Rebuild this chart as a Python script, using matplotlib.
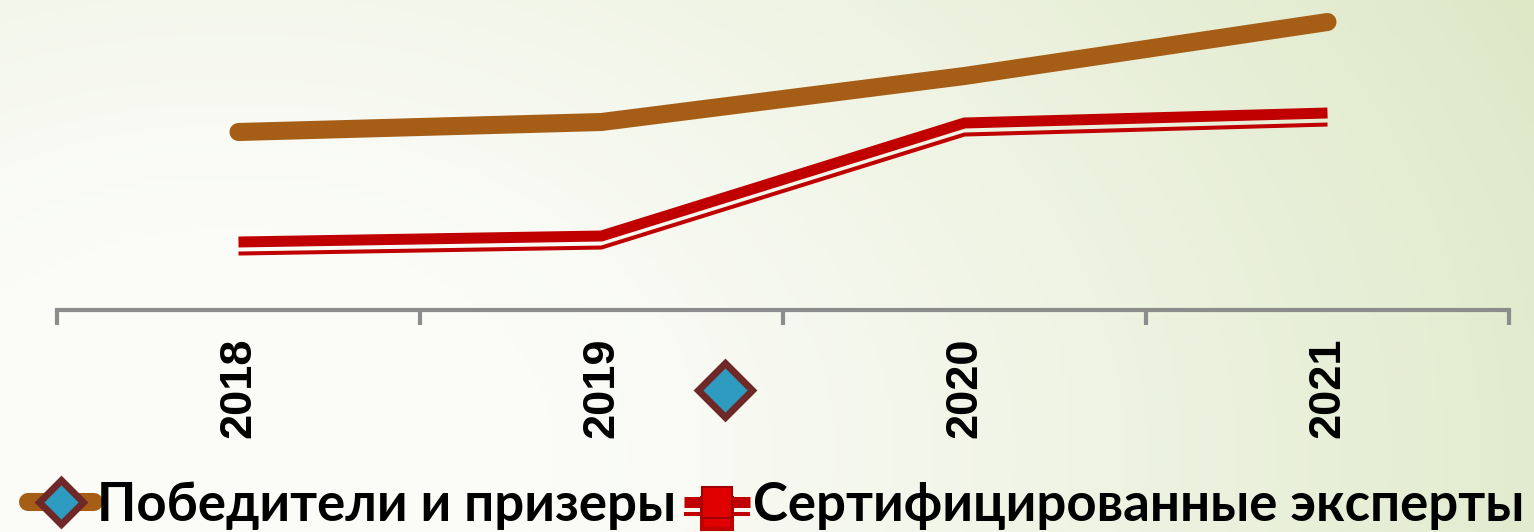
import numpy as np
import matplotlib
matplotlib.use("Agg")
import matplotlib.pyplot as plt
import matplotlib.patheffects as pe
from matplotlib.lines import Line2D

years = ["2018", "2019", "2020", "2021"]
winners = [17.8, 18.8, 23.4, 28.8]
experts = [6.8, 7.4, 18.7, 19.7]
series_names = ["Победители и призеры", "Сертифицированные эксперты"]

W, H = 1534, 532
fig = plt.figure(figsize=(W / 100, H / 100), dpi=100)

# background gradient
bg = fig.add_axes([0, 0, 1, 1], zorder=-10)
bg.axis("off")
xx, yy = np.meshgrid(np.linspace(0, 1, 400), np.linspace(0, 1, 140))
d = np.sqrt(((xx - 0.15) * 1.0) ** 2 + ((yy - 0.85) * 0.5) ** 2)
t = np.clip((d - 0.2) / 0.75, 0, 1) ** 1.2
c0 = np.array([0.985, 0.988, 0.972])
c1 = np.array([0.870, 0.910, 0.780])
img = c0[None, None, :] * (1 - t[..., None]) + c1[None, None, :] * t[..., None]
bg.imshow(img, extent=[0, 1, 0, 1], origin="upper", aspect="auto")
bg.set_xlim(0, 1)
bg.set_ylim(0, 1)

left, right = 57 / W, 1509 / W
bottom = (H - 310) / H
ax = fig.add_axes([left, bottom, right - left, 310 / H])
ax.patch.set_alpha(0)
x = np.arange(len(years))

ax.plot(x, winners, color="#A65E16", lw=13, solid_capstyle="round",
        solid_joinstyle="round", label=series_names[0], zorder=3)
red = "#C00000"
ax.plot(x, experts, color=red, lw=7.9, solid_capstyle="butt",
        solid_joinstyle="miter", label=series_names[1], zorder=3,
        path_effects=[pe.Stroke(offset=(0, -8.3), linewidth=2.9, foreground=red),
                      pe.Normal()])

ax.set_xlim(-0.5, len(years) - 0.5)
ax.set_ylim(0, 31)
for s in ["top", "right", "left"]:
    ax.spines[s].set_visible(False)
ax.spines["bottom"].set_color("#8C8C8C")
ax.spines["bottom"].set_linewidth(3)
ax.set_yticks([])
ax.set_xticks(np.arange(-0.5, len(years)), minor=False)
ax.set_xticklabels([])
ax.tick_params(axis="x", which="major", length=11, width=3, color="#8C8C8C")
ax.set_xticks(x, minor=True)
ax.set_xticklabels(years, minor=True, rotation=90, fontsize=32.5,
                   fontweight="bold", family="Liberation Sans")
ax.tick_params(axis="x", which="minor", length=0, pad=20)

# stray diamond marker
fig.add_artist(Line2D([725 / W], [1 - 390 / H], transform=fig.transFigure,
                      marker="D", markersize=27, markerfacecolor="#2E9CC0",
                      markeredgecolor="#6E2828", markeredgewidth=5,
                      linestyle="none"))

h1 = Line2D([], [], color="#A65E16", lw=13, solid_capstyle="round",
            marker="D", markersize=22, markerfacecolor="#2E9CC0",
            markeredgecolor="#6E2828", markeredgewidth=5)
h2 = Line2D([], [], color=red, lw=7.9, solid_capstyle="butt",
            marker="s", markersize=22, markerfacecolor="#E00000",
            markeredgecolor="#A00000", markeredgewidth=1.5,
            path_effects=[pe.Stroke(offset=(0, -8.3), linewidth=2.9, foreground=red),
                          pe.Normal()])
leg = fig.legend([h1, h2], series_names, loc="lower center", ncol=2,
                 bbox_to_anchor=(0.506, -0.085), frameon=False,
                 handlelength=1.25, handletextpad=0.05, columnspacing=0.15,
                 prop={"family": "Lato", "weight": "bold", "size": 38})

fig.savefig("out.png", dpi=100)
